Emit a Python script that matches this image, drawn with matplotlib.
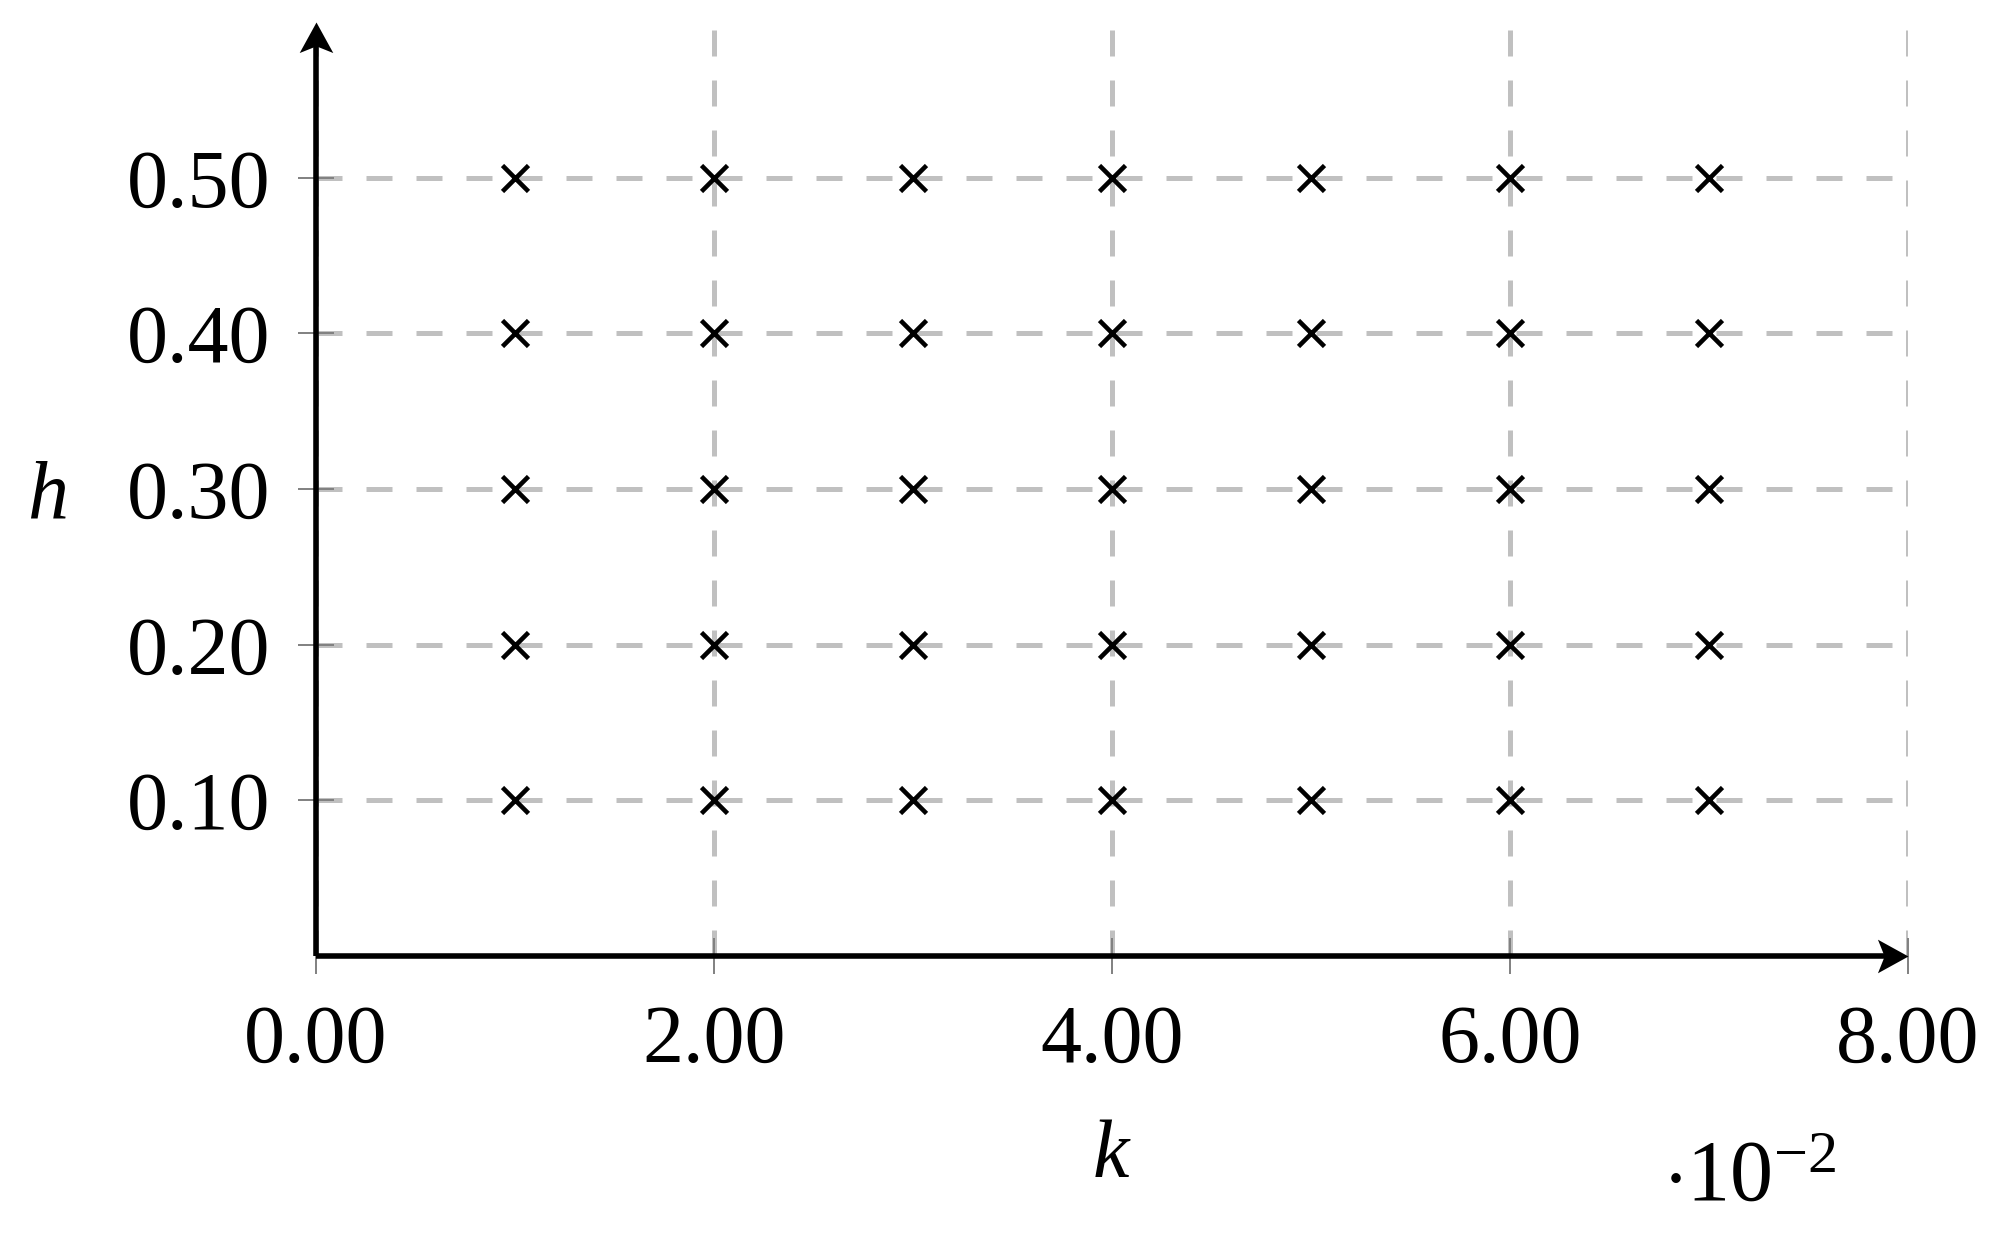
import numpy as np
import matplotlib
matplotlib.use("Agg")
import matplotlib.pyplot as plt
from matplotlib.path import Path

# ---- data ----
k_vals = [1, 2, 3, 4, 5, 6, 7]          # in units of 1e-2
h_vals = [0.10, 0.20, 0.30, 0.40, 0.50]
x_ticks = [0, 2, 4, 6, 8]
y_ticks = [0.10, 0.20, 0.30, 0.40, 0.50]

plt.rcParams['font.family'] = ['Liberation Serif', 'DejaVu Serif']
plt.rcParams['mathtext.fontset'] = 'custom'
plt.rcParams['mathtext.rm'] = 'Liberation Serif'
plt.rcParams['mathtext.it'] = 'Liberation Serif:italic'

W, H = 2004, 1233
fig = plt.figure(figsize=(W / 100, H / 100), dpi=100)
ax = fig.add_axes([316 / W, 1 - 956 / H, (1908 - 316) / W, (956 - 22) / H])

ax.set_xlim(0, 8)
ax.set_ylim(0, 0.6)

# grid points
K, Hh = np.meshgrid(k_vals, h_vals)
ax.plot(K.ravel(), Hh.ravel(), linestyle='none', marker='x', color='black',
        markersize=19, markeredgewidth=3.3, zorder=5, clip_on=False)

ax.set_xticks(x_ticks)
ax.set_xticklabels([f"{v:.2f}" for v in x_ticks])
ax.set_yticks(y_ticks)
ax.set_yticklabels([f"{v:.2f}" for v in y_ticks])
ax.tick_params(direction='inout', length=26, width=1.4, color='#808080',
               labelsize=59, pad=20)
ax.tick_params(axis='x', pad=22)

ax.grid(True, color='#c0c0c0', linewidth=3.6, linestyle=(0, (5.2, 4.8)))
ax.set_axisbelow(True)

for s in ax.spines.values():
    s.set_visible(False)

# axis lines with stealth-like arrow heads
head_right = Path([(0, 0), (-1, 0.55), (-0.78, 0), (-1, -0.55), (0, 0)],
                  [Path.MOVETO, Path.LINETO, Path.LINETO, Path.LINETO, Path.CLOSEPOLY])
head_up = Path([(0, 0), (-0.55, -1), (0, -0.78), (0.55, -1), (0, 0)],
               [Path.MOVETO, Path.LINETO, Path.LINETO, Path.LINETO, Path.CLOSEPOLY])
ax.plot([0, 7.9], [0, 0], color='black', lw=4.0, clip_on=False, zorder=6,
        solid_capstyle='butt')
ax.plot([0, 0], [0, 0.59], color='black', lw=4.0, clip_on=False, zorder=6,
        solid_capstyle='butt')
ax.plot([8], [0], marker=head_right, markersize=44, color='black',
        markeredgewidth=0, clip_on=False, zorder=7)
ax.plot([0], [0.6], marker=head_up, markersize=44, color='black',
        markeredgewidth=0, clip_on=False, zorder=7)

fig.text(1112 / W, 1 - 1157 / H, r'$k$', fontsize=59, ha='center', va='center')
fig.text(47 / W, 1 - 498 / H, r'$h$', fontsize=59, ha='center', va='center')
fig.text(1750 / W, 1 - 1180 / H, r'$\cdot 10^{-2}$', fontsize=62, ha='center', va='center')

fig.savefig('out.png', dpi=100)
